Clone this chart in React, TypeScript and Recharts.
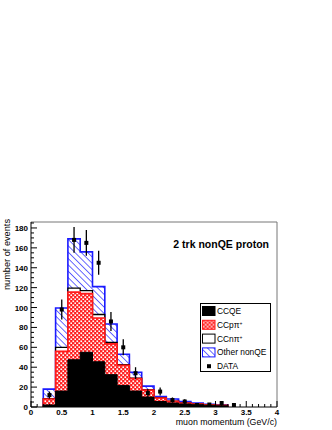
import React from "react";
import {
  ComposedChart,
  Area,
  Scatter,
  ErrorBar,
  XAxis,
  YAxis,
  ReferenceLine,
} from "recharts";

// bin edges in GeV/c, 15 bins of 0.2
const binEdges = [0.2, 0.4, 0.6, 0.8, 1.0, 1.2, 1.4, 1.6, 1.8, 2.0, 2.2, 2.4, 2.6, 2.8, 3.0, 3.2];

// per-component MC contributions (stacked in this order)
const ccqe = [2, 16, 47.5, 55, 45.5, 32.5, 21.5, 16, 10, 5.5, 4, 3, 2.3, 1.8, 1.2];
const ccppi = [6, 40, 68, 59, 44, 31, 20.5, 12.5, 7, 3.5, 1.7, 1, 0.7, 0.5, 0.4];
const ccnpi = [0.5, 4, 4, 3, 3.5, 1.5, 0.6, 0.5, 0.5, 0.3, 0.2, 0.1, 0.1, 0.1, 0.05];
const otherNonQE = [9.5, 39.5, 49.5, 39, 28, 18.5, 10.4, 6, 3.5, 1.2, 2.1, 1.3, 0.9, 0.4, 0.35];

// data points
const dataX = [0.3, 0.5, 0.7, 0.9, 1.1, 1.3, 1.5, 1.7, 1.9, 2.1, 2.3, 2.5, 2.7, 2.9, 3.1, 3.3];
const dataY = [12, 98, 168, 165, 145, 86, 60, 34, 14, 15.5, 7, 5.5, 2, 2.5, 4, 2];
const dataErr = [3.5, 10, 13, 13, 12, 9.5, 8, 6, 4, 4, 2.6, 2.3, 1.4, 1.6, 2, 1.4];

const yTicks = [0, 5, 10, 15, 20, 25, 30, 35, 40, 45, 50, 55, 60, 65, 70, 75, 80, 85, 90, 95, 100,
  105, 110, 115, 120, 125, 130, 135, 140, 145, 150, 155, 160, 165, 170, 175, 180, 185];
const xTicks = [0, 0.1, 0.2, 0.3, 0.4, 0.5, 0.6, 0.7, 0.8, 0.9, 1, 1.1, 1.2, 1.3, 1.4, 1.5, 1.6, 1.7,
  1.8, 1.9, 2, 2.1, 2.2, 2.3, 2.4, 2.5, 2.6, 2.7, 2.8, 2.9, 3, 3.1, 3.2, 3.3, 3.4, 3.5, 3.6, 3.7,
  3.8, 3.9, 4];

const Y_MAX = 186;
const FONT = "'Liberation Sans', Arial, Helvetica, sans-serif";

const stackUp = (parts: number[][]) =>
  parts[0].map((_, i) => parts.reduce((s, p) => s + p[i], 0));

const lvQE = ccqe;
const lvPpi = stackUp([ccqe, ccppi]);
const lvNpi = stackUp([ccqe, ccppi, ccnpi]);
const lvAll = stackUp([ccqe, ccppi, ccnpi, otherNonQE]);

// step rows: closed outline from baseline up and back down
const histRows: any[] = [];
const nb = ccqe.length;
histRows.push({ x: binEdges[0], qe: 0, ppi: 0, npi: 0, all: 0 });
for (let i = 0; i < nb; i++) {
  histRows.push({ x: binEdges[i], qe: lvQE[i], ppi: lvPpi[i], npi: lvNpi[i], all: lvAll[i] });
}
histRows.push({ x: binEdges[nb], qe: lvQE[nb - 1], ppi: lvPpi[nb - 1], npi: lvNpi[nb - 1], all: lvAll[nb - 1] });
histRows.push({ x: binEdges[nb], qe: 0, ppi: 0, npi: 0, all: 0 });

const points = dataX.map((x, i) => ({ x, y: dataY[i], err: dataErr[i] }));

const YTick = (props: any) => {
  const { x, y, payload } = props;
  const major = payload.value % 20 === 0;
  return (
    <g>
      <line x1={x} x2={x + (major ? 6 : 3)} y1={y} y2={y} stroke="#000" strokeWidth={1} />
      {major && (
        <text x={x - 3} y={y + 3} textAnchor="end" fontSize={8} fontWeight="bold" fontFamily={FONT} fill="#000">
          {payload.value}
        </text>
      )}
    </g>
  );
};

const XTick = (props: any) => {
  const { x, y, payload } = props;
  const v = payload.value;
  const major = Math.abs(v * 2 - Math.round(v * 2)) < 1e-6;
  return (
    <g>
      <line x1={x} x2={x} y1={y} y2={y - (major ? 6 : 3)} stroke="#000" strokeWidth={1} />
      {major && (
        <text x={x} y={y + 7.5} textAnchor="middle" fontSize={8} fontWeight="bold" fontFamily={FONT} fill="#000">
          {String(v)}
        </text>
      )}
    </g>
  );
};

const Patterns = ({ suffix }: { suffix: string }) => (
  <defs>
    <pattern id={"hatchBlue" + suffix} width="4.5" height="4.5" patternUnits="userSpaceOnUse" patternTransform="rotate(-45)">
      <rect width="4.5" height="4.5" fill="#fff" />
      <line x1="0" y1="0" x2="0" y2="4.5" stroke="#1a1aff" strokeWidth="1.3" />
    </pattern>
    <pattern id={"meshRed" + suffix} width="4" height="4" patternUnits="userSpaceOnUse">
      <rect width="4" height="4" fill="#ff2020" />
      <rect x="0.4" y="0.4" width="1.7" height="1.7" fill="#fff" />
      <rect x="2.4" y="2.4" width="1.7" height="1.7" fill="#fff" />
    </pattern>
  </defs>
);

const legendRows = [
  { key: "qe", label: "CCQE" },
  { key: "ppi", label: "CCpπ" },
  { key: "npi", label: "CCnπ" },
  { key: "other", label: "Other nonQE" },
  { key: "data", label: "DATA" },
];

export default function App() {
  return (
    <div style={{ position: "absolute", left: 0, top: 0, width: 332, height: 430, background: "#fff" }}>
      <ComposedChart
        width={332}
        height={430}
        data={histRows}
        margin={{ top: 222, right: 55, bottom: 0, left: 0 }}
      >
        <Patterns suffix="" />
        <XAxis
          dataKey="x"
          type="number"
          domain={[0, 4]}
          ticks={xTicks}
          interval={0}
          height={23}
          tickSize={0}
          tickMargin={0}
          tick={<XTick />}
          axisLine={{ stroke: "#000" }}
          allowDataOverflow
        />
        <YAxis
          type="number"
          domain={[0, Y_MAX]}
          ticks={yTicks}
          interval={0}
          width={31}
          tickSize={0}
          tickMargin={0}
          tick={<YTick />}
          axisLine={{ stroke: "#000" }}
          allowDataOverflow
        />
        <ReferenceLine x={4} stroke="#777" strokeWidth={1} />
        <ReferenceLine y={Y_MAX} stroke="#777" strokeWidth={1} />
        <Area
          type="stepAfter"
          dataKey="all"
          stroke="#1a1aff"
          strokeWidth={1.6}
          fill="url(#hatchBlue)"
          fillOpacity={1}
          isAnimationActive={false}
          dot={false}
          activeDot={false}
        />
        <Area
          type="stepAfter"
          dataKey="npi"
          stroke="#000"
          strokeWidth={1.3}
          fill="#fff"
          fillOpacity={1}
          isAnimationActive={false}
          dot={false}
          activeDot={false}
        />
        <Area
          type="stepAfter"
          dataKey="ppi"
          stroke="#ff1a1a"
          strokeWidth={1.6}
          fill="url(#meshRed)"
          fillOpacity={1}
          isAnimationActive={false}
          dot={false}
          activeDot={false}
        />
        <Area
          type="stepAfter"
          dataKey="qe"
          stroke="#000"
          strokeWidth={1}
          fill="#000"
          fillOpacity={1}
          isAnimationActive={false}
          dot={false}
          activeDot={false}
        />
        <Scatter
          data={points}
          dataKey="y"
          isAnimationActive={false}
          shape={(p: any) => <rect x={p.cx - 2} y={p.cy - 2} width={4} height={4} fill="#000" />}
        >
          <ErrorBar dataKey="err" direction="y" width={0} stroke="#000" strokeWidth={1.3} />
        </Scatter>
      </ComposedChart>

      <svg
        width={332}
        height={430}
        style={{ position: "absolute", left: 0, top: 0, pointerEvents: "none" }}
      >
        <Patterns suffix="Lg" />
        <text x={269} y={248} textAnchor="end" fontSize={10.5} fontWeight="bold" fontFamily={FONT} fill="#000">
          2 trk nonQE proton
        </text>
        <text transform="translate(10,219) rotate(-90)" textAnchor="end" fontSize={9.2} fontFamily={FONT} fill="#000">
          number of events
        </text>
        <text x={277} y={425} textAnchor="end" fontSize={8.8} fontFamily={FONT} fill="#000">
          muon momentum (GeV/c)
        </text>

        <g transform="translate(200.5,303.5)">
          <rect x={0} y={0} width={70} height={68} fill="#fff" stroke="#000" strokeWidth={1} />
          {legendRows.map((r, i) => {
            const cy = 7.5 + i * 13.8;
            let swatch: React.ReactNode = null;
            if (r.key === "qe") swatch = <rect x={2} y={cy - 4.5} width={12.5} height={9} fill="#000" stroke="#000" />;
            if (r.key === "ppi") swatch = <rect x={2} y={cy - 4.5} width={12.5} height={9} fill="url(#meshRedLg)" stroke="#ff1a1a" />;
            if (r.key === "npi") swatch = <rect x={2} y={cy - 4.5} width={12.5} height={9} fill="#fff" stroke="#000" />;
            if (r.key === "other") swatch = <rect x={2} y={cy - 4.5} width={12.5} height={9} fill="url(#hatchBlueLg)" stroke="#1a1aff" />;
            if (r.key === "data") swatch = <rect x={6.5} y={cy - 2} width={4} height={4} fill="#000" />;
            return (
              <g key={r.key}>
                {swatch}
                <text x={16.5} y={cy + 3} fontSize={8.4} fontFamily={FONT} fill="#000">
                  {r.label}
                  {(r.key === "ppi" || r.key === "npi") && (
                    <tspan fontSize={5} dy={-3}>+</tspan>
                  )}
                </text>
              </g>
            );
          })}
        </g>
      </svg>
    </div>
  );
}
